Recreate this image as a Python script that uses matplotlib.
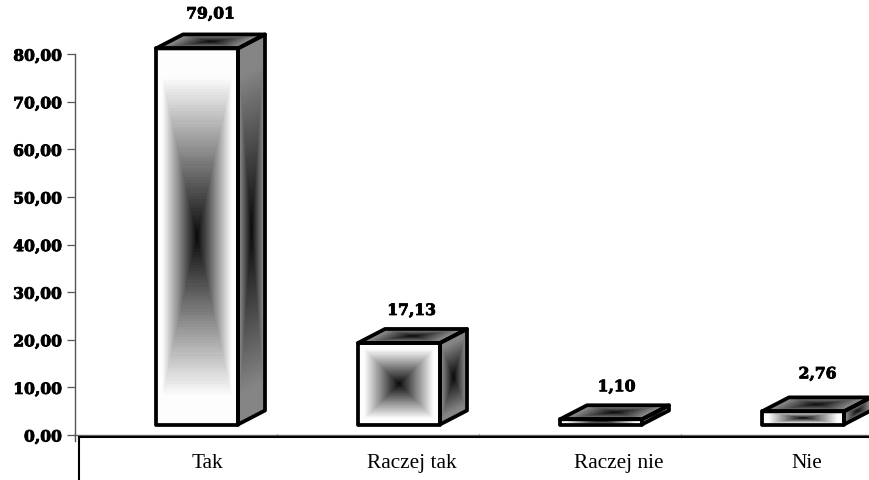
import numpy as np
import matplotlib
matplotlib.use("Agg")
import matplotlib.pyplot as plt
from matplotlib.patches import Polygon
import matplotlib.patheffects as pe
from matplotlib.colors import LinearSegmentedColormap

categories = ["Tak", "Raczej tak", "Raczej nie", "Nie"]
values = [79.01, 17.13, 1.10, 2.76]
value_labels = ["79,01", "17,13", "1,10", "2,76"]
y_ticks = [0, 10, 20, 30, 40, 50, 60, 70, 80]
y_tick_labels = ["0,00", "10,00", "20,00", "30,00", "40,00", "50,00", "60,00", "70,00", "80,00"]

W, H = 870, 481
PX_CAT = 202.0      # pixels per category
PX_UNIT = 4.76      # pixels per value unit
X0, Y0 = 207.0, 436.0  # pixel position of category 0 / value 0 (from top)
label_nudge_px = [0, 3, 8, -6]
value_label_gap_px = [20.5, 18.5, 18.5, 23.5]
value_label_dx_px = [0, -1, 2, 1]

fig = plt.figure(figsize=(W / 100, H / 100), dpi=100, facecolor="white")
ax = fig.add_axes([0, 0, 1, 1])
ax.set_xlim(-X0 / PX_CAT, (W - X0) / PX_CAT)
ax.set_ylim(-(H - Y0) / PX_UNIT, Y0 / PX_UNIT)

px = lambda p: p / PX_CAT
py = lambda p: p / PX_UNIT
bar_w = px(82)
bar_shift = px(-10)
base = py(10.5)
depth_x, depth_y = px(27), py(14)

cmap_front = LinearSegmentedColormap.from_list("f", ["#0a0a0a", "#fdfdfd"])
cmap_side = LinearSegmentedColormap.from_list("s", ["#0a0a0a", "#858585"])
N = 120
bold = dict(family="DejaVu Serif", weight="bold", fontsize=11.2,
            path_effects=[pe.withStroke(linewidth=0.6, foreground="black")])


def face(origin, e1, e2, cmap, saturate=0.85):
    u = np.linspace(-1, 1, N + 1)
    U, V = np.meshgrid(u, u)
    X = origin[0] + (U + 1) / 2 * e1[0] + (V + 1) / 2 * e2[0]
    Y = origin[1] + (U + 1) / 2 * e1[1] + (V + 1) / 2 * e2[1]
    uc = (u[:-1] + u[1:]) / 2
    Uc, Vc = np.meshgrid(uc, uc)
    C = np.clip(np.maximum(np.abs(Uc), np.abs(Vc)) / saturate, 0, 1)
    ax.pcolormesh(X, Y, C, cmap=cmap, vmin=0, vmax=1, shading="flat",
                  antialiased=False, linewidth=0, zorder=3)
    corners = [origin,
               (origin[0] + e1[0], origin[1] + e1[1]),
               (origin[0] + e1[0] + e2[0], origin[1] + e1[1] + e2[1]),
               (origin[0] + e2[0], origin[1] + e2[1])]
    ax.add_patch(Polygon(corners, closed=True, fill=False, edgecolor="black",
                         linewidth=2.7, joinstyle="round", zorder=4))


for i, val in enumerate(values):
    left = i + bar_shift - bar_w / 2
    right = left + bar_w
    top = base + val
    face((left, base), (bar_w, 0), (0, val), cmap_front)
    face((right, base), (depth_x, depth_y), (0, val), cmap_side)
    face((left, top), (bar_w, 0), (depth_x, depth_y), cmap_side)
    ax.annotate(value_labels[i], xy=(i + bar_shift + depth_x / 2, top + depth_y),
                xytext=(value_label_dx_px[i] * 0.72, value_label_gap_px[i] * 0.72),
                textcoords="offset points", ha="center", va="center",
                color="black", zorder=6, **bold)

# value axis
for s in ("top", "right"):
    ax.spines[s].set_visible(False)
ax.spines["left"].set_position(("data", px(74.5 - X0)))
ax.spines["left"].set_bounds(py(-6), 80)
ax.spines["left"].set_color("#555555")
ax.spines["left"].set_linewidth(1.0)
ax.set_yticks(y_ticks)
ax.set_yticklabels(y_tick_labels, **bold)
ax.tick_params(axis="y", length=6, width=0.9, color="#555555", pad=3)

# category axis
ax.axhline(0, xmin=74.5 / W, xmax=1, color="#666666", linewidth=1.0, zorder=2)
ax.spines["bottom"].set_position(("data", py(-1.6)))
ax.spines["bottom"].set_bounds(px(78.5 - X0), px(W - X0))
ax.spines["bottom"].set_color("black")
ax.spines["bottom"].set_linewidth(1.5)
ax.set_xticks([i + px(label_nudge_px[i]) for i in range(len(categories))])
ax.set_xticklabels(categories, family="Liberation Serif", fontsize=15.3, color="black")
ax.tick_params(axis="x", length=0, pad=11.5)
ax.set_xticks([px(277 - X0) + i for i in range(3)], minor=True)
ax.tick_params(axis="x", which="minor", direction="in", length=2.5, width=0.7, color="#444444")
ax.plot([px(79 - X0)] * 2, [py(-1.6), py(Y0 - H)], color="black", linewidth=1.5,
        solid_capstyle="butt", zorder=2, clip_on=False)

fig.savefig("out.png", dpi=100, facecolor="white")
